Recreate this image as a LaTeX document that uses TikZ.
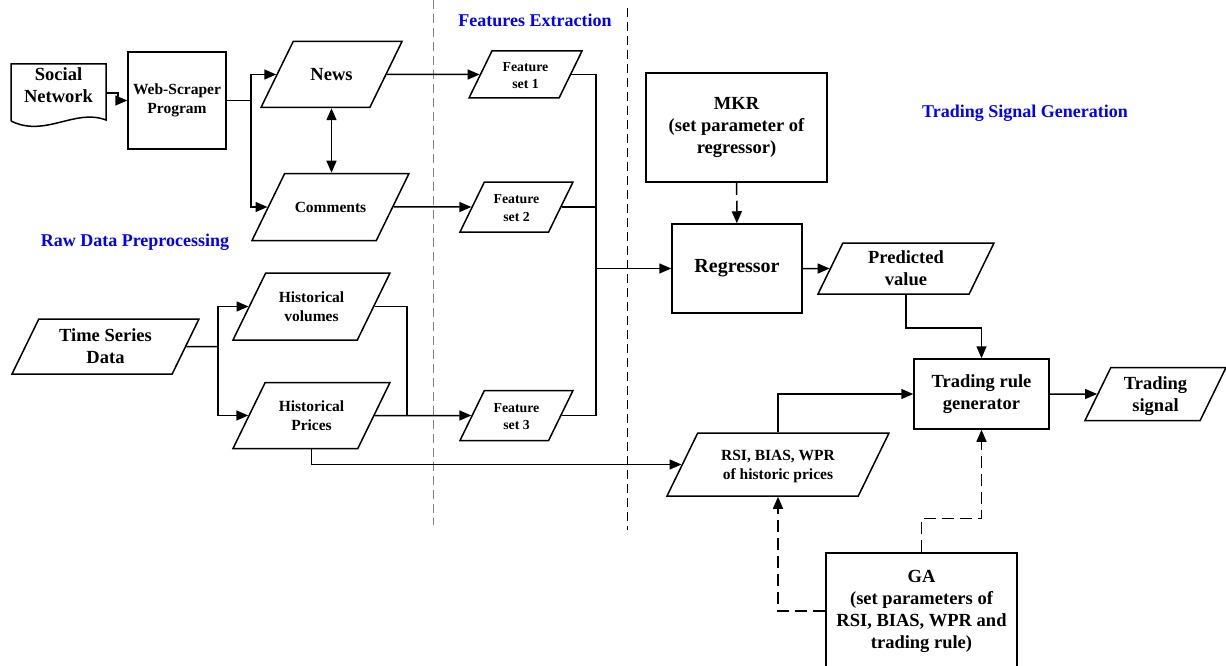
\documentclass[tikz,border=0pt]{standalone}
\usepackage{fontspec}
\setmainfont{Liberation Serif}
\usetikzlibrary{arrows.meta,shapes.geometric,calc}
\newcommand{\ptext}[2]{\vbox to #1{\vss\kern4pt\hbox{\begin{tabular}{@{}c@{}}#2\end{tabular}}\vss}}

\begin{document}
\begin{tikzpicture}[x=1pt,y=-1pt,>={Triangle[length=12pt,width=10pt]},line width=1.5pt,
every node/.style={align=center,font=\bfseries},
big/.style={font=\fontsize{18.5}{22}\selectfont\bfseries},
mid/.style={font=\fontsize{15.5}{19}\selectfont\bfseries},
sml/.style={font=\fontsize{13.8}{17.5}\selectfont\bfseries},
box/.style={draw,inner sep=2pt},
para/.style={draw,trapezium,trapezium left angle=64,trapezium right angle=116,trapezium stretches body,inner sep=0pt},
lbl/.style={text=blue,font=\fontsize{18}{22}\selectfont\bfseries},
dsh/.style={dash pattern=on 12pt off 6pt},
sep/.style={dash pattern=on 9pt off 5pt,line width=1pt}]
\useasboundingbox (0,0) rectangle (1226,666);
% section borders and titles
\draw[sep,gray] (433,0) -- (433,525);
\draw[sep] (627,8) -- (627,530);
\node[lbl] (fe) at (535,20) {Features Extraction};
\node[lbl] (tsg) at (1025,113) {Trading Signal Generation};
\node[lbl] (rdp) at (135,242) {Raw Data Preprocessing};
% raw data
\node[big,inner sep=0,minimum width=95,minimum height=42] (soc) at (58.5,85) {Social\\Network};
\draw (11,121) -- (11,64) -- (106,64) -- (106,120) .. controls (75,108) and (45,138) .. (11,121);
\node[mid,box,minimum width=98,minimum height=97] (ws) at (177,100.5) {Web-Scraper\\Program};
\node[big,para,minimum width=141] (news) at (331.5,74.5) {\ptext{66pt}{News}};
\node[mid,para,minimum width=157] (com) at (330.5,207) {\ptext{67pt}{Comments}};
\node[big,para,minimum width=187] (tsd) at (105.5,346.5) {\ptext{55pt}{Time Series\\Data}};
\node[mid,para,minimum width=157] (hv) at (311.5,306.5) {\ptext{67pt}{Historical\\volumes}};
\node[mid,para,minimum width=157] (hp) at (311.5,415.5) {\ptext{66pt}{Historical\\Prices}};
% features
\node[sml,para,minimum width=113] (fs1) at (525.5,74.5) {\ptext{47pt}{Feature\\set 1}};
\node[sml,para,minimum width=113] (fs2) at (516.5,207) {\ptext{50pt}{Feature\\set 2}};
\node[sml,para,minimum width=113] (fs3) at (516.5,415.5) {\ptext{50pt}{Feature\\set 3}};
% signal generation
\node[big,box,minimum width=181,minimum height=109] (mkr) at (736.5,127.5) {MKR\\(set parameter of\\regressor)};
\node[box,minimum width=130,minimum height=89,font=\fontsize{20}{24}\selectfont\bfseries] (reg) at (737,268.5) {Regressor};
\node[big,para,minimum width=176] (pred) at (906,268.5) {\ptext{51pt}{Predicted\\value}};
\node[big,box,minimum width=135,minimum height=70] (trg) at (981.5,394) {Trading rule\\generator};
\node[big,para,minimum width=141] (tsig) at (1155.5,394) {\ptext{53pt}{Trading\\signal}};
\node[mid,para,minimum width=222] (rsi) at (778,464.5) {\ptext{63pt}{RSI, BIAS, WPR\\of historic prices}};
\node[big,box,minimum width=191,minimum height=116] (ga) at (921.5,611) {GA\\(set parameters of\\RSI, BIAS, WPR and\\trading rule)};
% joints
\coordinate (wsj) at (251,100.5);
\coordinate (tj) at (218,346.5);
\coordinate (hj) at (407,415.5);
\coordinate (mrg) at (596,268.5);
% connectors
\draw[->] ([yshift=-8pt]soc.east) -- ++(11,0) |- (ws);
\draw (ws.east) -- (wsj); \draw[->] (wsj) |- (news); \draw[->] (wsj) |- (com);
\draw[<->] (news.south) -- (news.south |- com.north);
\draw[->] (news) -- (fs1); \draw[->] (com) -- (fs2);
\draw (tsd) -- (tj); \draw[->] (tj) |- (hv); \draw[->] (tj) |- (hp);
\draw (hv) -| (hj); \draw[->] (hp) -- (fs3);
\draw (fs1) -| (mrg); \draw (fs2) -| (mrg); \draw (fs3) -| (mrg);
\draw[->] (mrg) -- (reg);
\draw[->] (hp.south) |- (rsi);
\draw[->,dsh] (mkr) -- (reg);
\draw[->] (reg) -- (pred);
\draw[->] (pred.south) -- ++(0,33) -| (trg);
\draw[->] (rsi.north) |- (trg);
\draw[->] (trg) -- (tsig);
\draw[->,dsh] (ga.north) -- ++(0,-34) -| (trg);
\draw[->,dsh] (ga.west) -| (rsi);
\end{tikzpicture}
\end{document}
